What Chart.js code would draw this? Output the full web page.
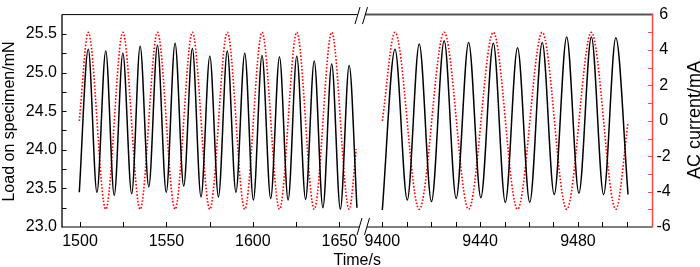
<!DOCTYPE html>
<html>
<head>
<meta charset="utf-8">
<style>html,body{margin:0;padding:0;background:#fff;}canvas{display:block;}</style>
<script src="https://cdn.jsdelivr.net/npm/chart.js@4/dist/chart.umd.min.js"></script>
</head>
<body>
<canvas id="c" width="700" height="267"></canvas>
<script>
// ---- data ----
// Load on specimen (black), segment A (1500-1660 s): alternating trough / peak
const loadTimeA = [1499.6,1504.8,1509.8,1514.9,1519.8,1524.8,1529.9,1534.8,1539.8,1544.8,1549.9,1555.0,1560.0,1565.0,1570.0,1575.1,1580.1,1585.2,1590.2,1595.3,1600.3,1605.3,1610.3,1615.4,1620.4,1625.4,1630.5,1635.5,1640.5,1645.6,1650.6,1655.7,1660.2];
const loadA     = [23.45,25.30,23.45,25.28,23.41,25.25,23.43,25.34,23.52,25.35,23.45,25.38,23.53,25.31,23.39,25.21,23.39,25.28,23.45,25.25,23.35,25.22,23.37,25.20,23.35,25.21,23.36,25.15,23.25,25.11,23.23,25.09,23.25];
// AC current (red), segment A
const curTimeA = [1499.6,1504.8,1514.9,1524.8,1534.8,1544.8,1555.0,1565.0,1575.1,1585.2,1595.3,1605.3,1615.4,1625.4,1635.5,1645.6,1655.7,1659.8];
const curA     = [0.0,5.0,-5.0,5.0,-5.0,5.0,-5.0,5.0,-5.0,5.0,-5.0,5.0,-5.0,5.0,-5.0,5.0,-5.0,-1.6];
// Load, segment B (9400-9500 s)
const loadTimeB = [9400.0,9405.2,9410.2,9415.1,9420.1,9425.3,9430.2,9435.3,9440.3,9445.4,9450.3,9455.3,9460.3,9465.4,9470.3,9475.4,9480.4,9485.5,9490.5,9495.5,9500.5];
const loadB     = [23.22,25.30,23.35,25.37,23.33,25.41,23.37,25.39,23.38,25.38,23.32,25.32,23.32,25.39,23.42,25.46,23.44,25.46,23.42,25.45,23.42];
// AC current, segment B
const curTimeB = [9400.0,9405.2,9415.1,9425.3,9435.3,9445.4,9455.3,9465.4,9475.4,9485.5,9495.5,9500.5];
const curB     = [0.0,5.0,-5.0,5.0,-5.0,5.0,-5.0,5.0,-5.0,5.0,-5.0,-0.1];
// tick labels
const xLabelsA = [1500,1550,1600,1650];
const xLabelsB = [9400,9440,9480];
const yLabels  = [23.0,23.5,24.0,24.5,25.0,25.5];
const y2Labels = [-6,-4,-2,0,2,4,6];

const zip = (xs, ys) => xs.map((x, i) => ({x: x, y: ys[i]}));

Chart.defaults.font.family = 'Liberation Sans, Arial, sans-serif';
Chart.defaults.font.size = 16;
Chart.defaults.color = '#000';

function seg(ctx, x1, y1, x2, y2, color, w) {
  ctx.beginPath();
  ctx.strokeStyle = color;
  ctx.lineWidth = w;
  ctx.moveTo(x1, y1);
  ctx.lineTo(x2, y2);
  ctx.stroke();
}

const AXIS_RED = 'rgb(255,70,70)';

const framePlugin = {
  id: 'frame',
  afterDatasetsDraw(chart) {
    const ctx = chart.ctx;
    const a = chart.chartArea;
    const s = chart.scales;
    const L = a.left, R = a.right, T = a.top, B = a.bottom;
    const bx = s.x1.right;
    ctx.save();
    ctx.setLineDash([]);
    ctx.lineCap = 'butt';
    // x ticks (inward)
    [s.x1, s.x2].forEach(sc => {
      sc.ticks.forEach(t => {
        const px = sc.getPixelForValue(t.value);
        if (px > sc.left + 2 && px < sc.right - 2 && px > L + 2 && px < R - 2) {
          seg(ctx, Math.round(px) + 0.5, B, Math.round(px) + 0.5, B - 5, '#000', 1);
        }
      });
    });
    // left y ticks
    s.y.ticks.forEach(t => {
      const py = s.y.getPixelForValue(t.value);
      if (py > T + 2 && py < B - 2) seg(ctx, L, Math.round(py) + 0.5, L + 4.5, Math.round(py) + 0.5, '#000', 1);
    });
    // right y ticks
    s.y2.ticks.forEach(t => {
      const py = s.y2.getPixelForValue(t.value);
      if (py > T + 2 && py < B - 2) seg(ctx, R, Math.round(py) + 0.5, R - 4.5, Math.round(py) + 0.5, AXIS_RED, 1);
    });
    // frame
    seg(ctx, L, T, L, B + 0.5, '#000', 1.3);
    seg(ctx, L, B, bx - 3.5, B, '#000', 1.2);
    seg(ctx, bx + 4, B, R, B, '#000', 1.2);
    seg(ctx, L, T, bx - 5.5, T, '#000', 1);
    seg(ctx, bx + 2, T, R, T, '#555', 2);
    seg(ctx, R, T - 1, R, B + 0.5, AXIS_RED, 1.5);
    // break marks
    seg(ctx, bx - 8, T + 9.5, bx - 3, T - 7.5, '#000', 1);
    seg(ctx, bx - 0.5, T + 9.5, bx + 4.5, T - 7.5, '#000', 1);
    seg(ctx, bx - 6, B + 8, bx - 1, B - 9, '#000', 1);
    seg(ctx, bx + 1.5, B + 8, bx + 6.5, B - 9, '#000', 1);
    ctx.restore();
  },
  afterDraw(chart) {
    const ctx = chart.ctx;
    const a = chart.chartArea;
    ctx.save();
    ctx.fillStyle = '#000';
    ctx.textBaseline = 'alphabetic';
    ctx.textAlign = 'center';
    ctx.font = '16px "Liberation Sans", Arial, sans-serif';
    ctx.fillText('Time/s', (a.left + a.right) / 2, 265);
    ctx.save();
    ctx.translate(13.5, 121.5);
    ctx.rotate(-Math.PI / 2);
    ctx.fillText('Load on specimen/mN', 0, 0);
    ctx.restore();
    ctx.save();
    ctx.font = '18px "Liberation Sans", Arial, sans-serif';
    ctx.translate(699.5, 120);
    ctx.rotate(-Math.PI / 2);
    ctx.fillText('AC current/mA', 0, 0);
    ctx.restore();
    ctx.restore();
  }
};

const common = {pointRadius: 0, cubicInterpolationMode: 'monotone', fill: false};

new Chart(document.getElementById('c'), {
  type: 'line',
  data: {
    datasets: [
      Object.assign({label: 'Load A', data: zip(loadTimeA, loadA), xAxisID: 'x1', yAxisID: 'y', borderColor: '#000', borderWidth: 1.5}, common),
      Object.assign({label: 'Load B', data: zip(loadTimeB, loadB), xAxisID: 'x2', yAxisID: 'y', borderColor: '#000', borderWidth: 1.5}, common),
      Object.assign({label: 'Current A', data: zip(curTimeA, curA), xAxisID: 'x1', yAxisID: 'y2', borderColor: '#ff0000', borderWidth: 1.6, borderDash: [1.6, 1.8]}, common),
      Object.assign({label: 'Current B', data: zip(curTimeB, curB), xAxisID: 'x2', yAxisID: 'y2', borderColor: '#ff0000', borderWidth: 1.6, borderDash: [1.6, 1.8]}, common)
    ]
  },
  options: {
    responsive: false,
    animation: false,
    events: [],
    layout: {padding: {top: 7.5, left: 0, right: 0, bottom: 0}},
    plugins: {legend: {display: false}, tooltip: {enabled: false}},
    scales: {
      x1: {
        type: 'linear', position: 'bottom', stack: 'time', stackWeight: 301,
        min: 1489.6, max: 1663.7,
        grid: {display: false, drawTicks: false}, border: {display: false},
        ticks: {stepSize: 25, includeBounds: false, autoSkip: false, maxRotation: 0, padding: 4.5,
          callback: v => xLabelsA.includes(v) ? String(v) : ''},
        afterFit: sc => { sc.height = 40; }
      },
      x2: {
        type: 'linear', position: 'bottom', stack: 'time', stackWeight: 289.5,
        min: 9392.1, max: 9510.5,
        grid: {display: false, drawTicks: false}, border: {display: false},
        ticks: {stepSize: 10, includeBounds: false, autoSkip: false, maxRotation: 0, padding: 4.5,
          callback: v => xLabelsB.includes(v) ? String(v) : ''},
        afterFit: sc => { sc.height = 40; }
      },
      y: {
        type: 'linear', position: 'left', min: 23.0, max: 25.75,
        grid: {display: false, drawTicks: false}, border: {display: false},
        ticks: {stepSize: 0.25, includeBounds: false, autoSkip: false, padding: 5,
          callback: v => yLabels.some(l => Math.abs(l - v) < 1e-9) ? v.toFixed(1) : ''},
        afterFit: sc => { sc.width = 62; }
      },
      y2: {
        type: 'linear', position: 'right', min: -6, max: 6,
        grid: {display: false, drawTicks: false}, border: {display: false},
        ticks: {stepSize: 1, autoSkip: false, padding: 4, crossAlign: 'center',
          callback: v => y2Labels.includes(v) ? String(v) : ''},
        afterFit: sc => { sc.width = 47.5; }
      }
    }
  },
  plugins: [framePlugin]
});
</script>
</body>
</html>
